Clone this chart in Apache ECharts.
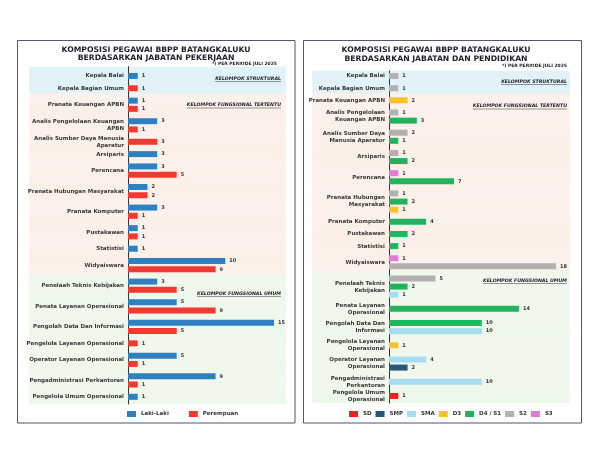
<!DOCTYPE html>
<html>
<head>
<meta charset="utf-8">
<title>Komposisi Pegawai BBPP Batangkaluku</title>
<script src="https://cdn.jsdelivr.net/npm/echarts@6/dist/echarts.min.js"></script>
<style>
    html, body { margin: 0; padding: 0; background: #fff; }
    #chart { width: 600px; height: 464px; }
</style>
</head>
<body>
<div id="chart"></div>
<script>
// ---- data ----
var jabatan = ['Kepala Balai', 'Kepala Bagian Umum', 'Pranata Keuangan APBN', 'Analis Pengelolaan Keuangan APBN',
    'Analis Sumber Daya Manusia Aparatur', 'Arsiparis', 'Perencana', 'Pranata Hubungan Masyarakat', 'Pranata Komputer',
    'Pustakawan', 'Statistisi', 'Widyaiswara', 'Penelaah Teknis Kebijakan', 'Penata Layanan Operasional',
    'Pengolah Data Dan Informasi', 'Pengelola Layanan Operasional', 'Operator Layanan Operasional',
    'Pengadministrasi Perkantoran', 'Pengelola Umum Operasional'];

// tick labels (line breaks as in each panel)
var labelKiri = ['Kepala Balai', 'Kepala Bagian Umum', 'Pranata Keuangan APBN', 'Analis Pengelolaan Keuangan\nAPBN',
    'Analis Sumber Daya Manusia\nAparatur', 'Arsiparis', 'Perencana', 'Pranata Hubungan Masyarakat', 'Pranata Komputer',
    'Pustakawan', 'Statistisi', 'Widyaiswara', 'Penelaah Teknis Kebijakan', 'Penata Layanan Operasional',
    'Pengolah Data Dan Informasi', 'Pengelola Layanan Operasional', 'Operator Layanan Operasional',
    'Pengadministrasi Perkantoran', 'Pengelola Umum Operasional'];
var labelKanan = ['Kepala Balai', 'Kepala Bagian Umum', 'Pranata Keuangan APBN', 'Analis Pengelolaan\nKeuangan APBN',
    'Analis Sumber Daya\nManusia Aparatur', 'Arsiparis', 'Perencana', 'Pranata Hubungan\nMasyarakat', 'Pranata Komputer',
    'Pustakawan', 'Statistisi', 'Widyaiswara', 'Penelaah Teknis\nKebijakan', 'Penata Layanan\nOperasional',
    'Pengolah Data Dan\nInformasi', 'Pengelola Layanan\nOperasional', 'Operator Layanan\nOperasional',
    'Pengadministrasi\nPerkantoran', 'Pengelola Umum\nOperasional'];

// 0 = struktural, 1 = fungsional tertentu, 2 = fungsional umum
var kelompok = [0, 0, 1, 1, 1, 1, 1, 1, 1, 1, 1, 1, 2, 2, 2, 2, 2, 2, 2];
var namaKelompok = ['KELOMPOK STRUKTURAL', 'KELOMPOK FUNGSIONAL TERTENTU', 'KELOMPOK FUNGSIONAL UMUM'];

var jenisKelamin = ['Laki-Laki', 'Perempuan'];
var lakiLaki = [1, null, 1, 3, null, 3, 3, 2, 3, 1, 1, 10, 3, 5, 15, null, 5, 9, 1];
var perempuan = [null, 1, 1, 1, 3, null, 5, 2, 1, 1, null, 9, 5, 9, 5, 1, 1, 1, null];

var pendidikan = ['SD', 'SMP', 'SMA', 'D3', 'D4 / S1', 'S2', 'S3'];
var sd = [null, null, null, null, null, null, null, null, null, null, null, null, null, null, null, null, null, null, 1];
var smp = [null, null, null, null, null, null, null, null, null, null, null, null, null, null, null, null, 2, null, null];
var sma = [null, null, null, null, null, null, null, null, null, null, null, null, 1, null, 10, null, 4, 10, null];
var d3 = [null, null, 2, null, null, null, null, 1, null, null, null, null, null, null, null, 1, null, null, null];
var s1 = [null, null, null, 3, 1, 2, 7, 2, 4, 2, 1, null, 2, 14, 10, null, null, null, null];
var s2 = [1, 1, null, 1, 2, 1, null, 1, null, null, null, 18, 5, null, null, null, null, null, null];
var s3 = [null, null, null, null, null, null, 1, null, null, null, null, 1, null, null, null, null, null, null, null];

// ---- warna ----
var warnaKelompok = ['#dff2f8', '#fcefe8', '#eef7ea'];
var warnaJK = ['#2f80c0', '#ef3a33'];
var warnaPendidikan = ['#f01e1e', '#245a78', '#a6dcf2', '#fdc12c', '#22b35f', '#b3b1af', '#e07ad6'];
var FONT = '"DejaVu Sans", Verdana, sans-serif';

// every bar gets its own row on a fine category axis; empty rows make the spacing
var LANGKAH = 4;
function susunBaris(nilai, urutan, jarakDalam, jarakAntar, padAtas, padBawah) {
    var baris = [];
    var kosong = function (g) { baris.push({ grp: g, seri: -1 }); };
    for (var p = 0; p < padAtas; p++) kosong(kelompok[0]);
    for (var j = 0; j < jabatan.length; j++) {
        if (j > 0) {
            var g0 = kelompok[j - 1], g1 = kelompok[j];
            var n = (g0 === g1 ? jarakDalam[g1] : jarakAntar) - 1;
            for (var s = 0; s < n; s++) kosong(s < Math.floor(n / 2) ? g0 : g1);
        }
        var awal = baris.length, ada = 0;
        urutan.forEach(function (k) {
            if (nilai[k][j] == null) return;
            if (ada > 0) for (var s = 0; s < LANGKAH - 1; s++) kosong(kelompok[j]);
            baris.push({ grp: kelompok[j], seri: k, val: nilai[k][j] });
            ada++;
        });
        baris[awal + (ada - 1) * LANGKAH / 2].label = j;
    }
    for (p = 0; p < padBawah; p++) kosong(kelompok[kelompok.length - 1]);
    return baris;
}

var barisKiri = susunBaris([lakiLaki, perempuan], [0, 1], [6, 6, 6], 6, 4, 3);
var barisKanan = susunBaris([sd, smp, sma, d3, s1, s2, s3], [6, 5, 4, 3, 2, 1, 0], [6, 6, 7], 6, 2, 3);

function kategori(baris) {
    return baris.map(function (b, i) { return 'b' + i; });
}

function sumbuY(baris, label, idx, tampil) {
    return {
        type: 'category', gridIndex: idx, inverse: true, data: kategori(baris),
        show: tampil,
        axisTick: { show: false },
        axisLine: { show: true, lineStyle: { color: '#333', width: 1 } },
        axisLabel: {
            interval: 0, margin: 4, fontSize: 5.5, fontWeight: 'bold', color: '#383838',
            lineHeight: 7, fontFamily: FONT,
            formatter: function (v) {
                var b = baris[+v.slice(1)];
                return b && b.label != null ? label[b.label] : '';
            }
        }
    };
}

function seriLatar(baris, idx) {
    return {
        type: 'bar', xAxisIndex: idx, yAxisIndex: idx, silent: true, z: -1,
        barWidth: '100%',
        data: baris.map(function (b) {
            var w = warnaKelompok[b.grp];
            return { value: 1, itemStyle: { color: w, borderColor: w, borderWidth: 1 } };
        })
    };
}

function seriBatang(baris, nama, warna, idx) {
    return nama.map(function (n, k) {
        return {
            name: n, type: 'bar', xAxisIndex: idx, yAxisIndex: idx,
            barWidth: 6, barGap: '-100%',
            itemStyle: { color: warna[k] },
            label: {
                show: true, position: 'right', distance: 4, fontSize: 5, fontWeight: 'bold',
                color: '#333', fontFamily: FONT
            },
            data: baris.map(function (b) { return b.seri === k ? b.val : '-'; })
        };
    });
}

// ---- teks tambahan ----
var ukur = document.createElement('canvas').getContext('2d');
function lebarTeks(t, f) { ukur.font = f; return ukur.measureText(t).width; }

var fontJudul = 'bold 7.7px ' + FONT;
var fontCatatan = 'bold 4.5px ' + FONT;
var fontKelompok = 'italic bold 4.7px ' + FONT;

function teks(t, x, y, f, align) {
    return { type: 'text', style: { text: t, x: x, y: y, font: f, fill: '#1d1d2b', align: align, verticalAlign: 'middle' } };
}
function labelKelompok(g, x, y) {
    var w = lebarTeks(namaKelompok[g], fontKelompok);
    return [
        teks(namaKelompok[g], x, y, fontKelompok, 'right'),
        { type: 'line', shape: { x1: x - w, y1: y + 3, x2: x, y2: y + 3 }, style: { stroke: '#333', lineWidth: 0.5 } }
    ];
}

var grafik = [
    { type: 'rect', shape: { x: 17.5, y: 40.5, width: 277.5, height: 382.5 }, style: { fill: 'none', stroke: '#55556e', lineWidth: 1 } },
    { type: 'rect', shape: { x: 303.5, y: 40.5, width: 278, height: 382.5 }, style: { fill: 'none', stroke: '#55556e', lineWidth: 1 } },
    teks('KOMPOSISI PEGAWAI BBPP BATANGKALUKU', 156, 50, fontJudul, 'center'),
    teks('BERDASARKAN JABATAN PEKERJAAN', 156, 58.5, fontJudul, 'center'),
    teks('*) PER PERIODE JULI 2025', 277, 63.5, fontCatatan, 'right'),
    teks('KOMPOSISI PEGAWAI BBPP BATANGKALUKU', 436, 50, fontJudul, 'center'),
    teks('BERDASARKAN JABATAN DAN PENDIDIKAN', 436, 59, fontJudul, 'center'),
    teks('*) PER PERIODE JULI 2025', 567, 65.5, fontCatatan, 'right')
]
    .concat(labelKelompok(0, 281, 78.5), labelKelompok(1, 281, 105), labelKelompok(2, 281, 293.5))
    .concat(labelKelompok(0, 567, 81.5), labelKelompok(1, 567, 106), labelKelompok(2, 567, 280.5));

var chart = echarts.init(document.getElementById('chart'), null, { renderer: 'canvas' });

var option = {
    backgroundColor: '#ffffff',
    animation: false,
    textStyle: { fontFamily: FONT },
    grid: [
        { left: 29, top: 66.7, width: 257, height: 337.3, outerBoundsMode: 'none' },
        { left: 128, top: 66.7, width: 155.7, height: 337.3, outerBoundsMode: 'none' },
        { left: 312, top: 71, width: 258, height: 332, outerBoundsMode: 'none' },
        { left: 389, top: 71, width: 181, height: 332, outerBoundsMode: 'none' }
    ],
    xAxis: [
        { type: 'value', gridIndex: 0, min: 0, max: 1, show: false },
        { type: 'value', gridIndex: 1, min: 0, max: 16, show: false },
        { type: 'value', gridIndex: 2, min: 0, max: 1, show: false },
        { type: 'value', gridIndex: 3, min: 0, max: 19.5, show: false }
    ],
    yAxis: [
        sumbuY(barisKiri, labelKiri, 0, false),
        sumbuY(barisKiri, labelKiri, 1, true),
        sumbuY(barisKanan, labelKanan, 2, false),
        sumbuY(barisKanan, labelKanan, 3, true)
    ],
    legend: [
        {
            data: jenisKelamin, left: 127, top: 411, icon: 'rect', itemWidth: 9, itemHeight: 6, itemGap: 20,
            padding: 0, selectedMode: false,
            textStyle: { fontSize: 5.5, fontWeight: 'bold', color: '#333', fontFamily: FONT }
        },
        {
            data: pendidikan, left: 349, top: 411, icon: 'rect', itemWidth: 9, itemHeight: 6, itemGap: 4,
            padding: 0, selectedMode: false,
            textStyle: { fontSize: 5.5, fontWeight: 'bold', color: '#333', fontFamily: FONT }
        }
    ],
    graphic: grafik,
    series: [seriLatar(barisKiri, 0), seriLatar(barisKanan, 2)]
        .concat(seriBatang(barisKiri, jenisKelamin, warnaJK, 1))
        .concat(seriBatang(barisKanan, pendidikan, warnaPendidikan, 3))
};

chart.setOption(option);
</script>
</body>
</html>
